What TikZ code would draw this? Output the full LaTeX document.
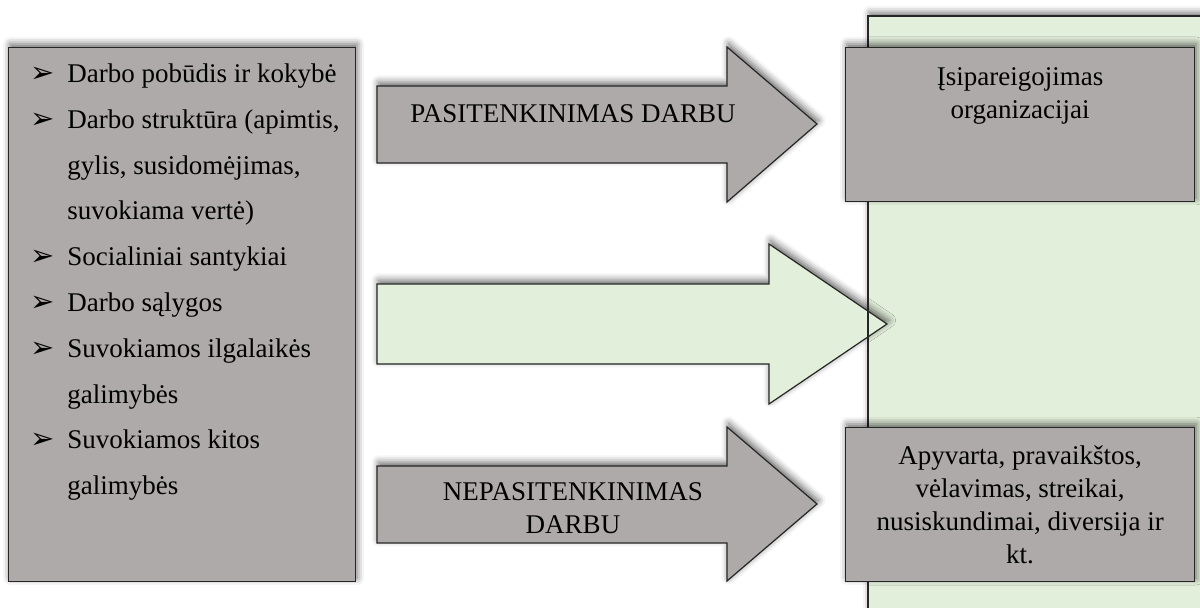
\documentclass[tikz,border=0pt]{standalone}
\usepackage{fontspec}
\setmainfont{Liberation Serif}
\newfontfamily\symfont{DejaVu Sans}
\usetikzlibrary{positioning,shadows.blur}
\definecolor{boxgray}{RGB}{174,170,170}
\definecolor{palegreen}{RGB}{226,239,218}
\newcommand{\bul}{{\symfont\fontsize{14.5}{14.5}\selectfont ➢}}

\begin{document}
\begin{tikzpicture}[
  x=0.5pt, y=-0.5pt,
  font=\fontsize{13.5}{16.5}\selectfont,
  softshadow/.style={blur shadow={shadow xshift=0.8pt, shadow yshift=1.8pt, shadow blur radius=3.5pt, shadow opacity=60}},
  greybox/.style={draw=black!85, line width=0.6pt, fill=boxgray, softshadow, inner sep=0pt, anchor=north west, align=center},
  panel/.style={fill=palegreen, softshadow, inner sep=0pt, anchor=north west},
  bigarrow/.style={draw=black!85, line width=0.6pt, line join=miter, softshadow},
  label/.style={inner sep=0pt, align=center}
]
\useasboundingbox (0,0) rectangle (1200,608);

% green background field on the right
\node[panel, minimum width=190pt, minimum height=320pt] (field) at (868,16) {};

% factors
\node[greybox, minimum width=173.5pt, minimum height=267pt] (factors) at (8,47) {};
\node[inner sep=0pt, anchor=north west, font=\fontsize{13.5}{22.9}\selectfont] (list) at (30,50) {%
  \begin{tabular}{@{}p{18.5pt}@{}l@{}}
  \bul & Darbo pobūdis ir kokybė\\
  \bul & Darbo struktūra (apimtis,\\
       & gylis, susidomėjimas,\\
       & suvokiama vertė)\\
  \bul & Socialiniai santykiai\\
  \bul & Darbo sąlygos\\
  \bul & Suvokiamos ilgalaikės\\
       & galimybės\\
  \bul & Suvokiamos kitos\\
       & galimybės
  \end{tabular}};

% block arrows
\draw[bigarrow, fill=boxgray] (377,86) -- (727,86) -- (727,47) -- (817,124) -- (727,202) -- (727,163) -- (377,163) -- cycle;
\node[label] (sat) at (573,114) {PASITENKINIMAS DARBU};

\draw[bigarrow, fill=palegreen] (377,284) -- (769,284) -- (769,244) -- (887,324) -- (769,404) -- (769,364) -- (377,364) -- cycle;

\draw[bigarrow, fill=boxgray] (377,466) -- (727,466) -- (727,427) -- (817,504) -- (727,581) -- (727,543) -- (377,543) -- cycle;
\node[label] (dissat) at (573,508) {NEPASITENKINIMAS\\DARBU};

% border of the field over the green arrow
\draw[black!85, line width=0.6pt] (field.north east) -- (field.north west) -- (field.south west);

% outcomes
\node[greybox, minimum width=174.5pt, minimum height=77pt] (commit) at (845,47) {};
\node[label, anchor=north] (committxt) at ([yshift=-10pt]commit.north) {Įsipareigojimas\\organizacijai};
\node[greybox, minimum width=174.5pt, minimum height=77pt] (absence) at (845,427)
  {Apyvarta, pravaikštos,\\vėlavimas, streikai,\\nusiskundimai, diversija ir\\kt.};
\end{tikzpicture}
\end{document}
